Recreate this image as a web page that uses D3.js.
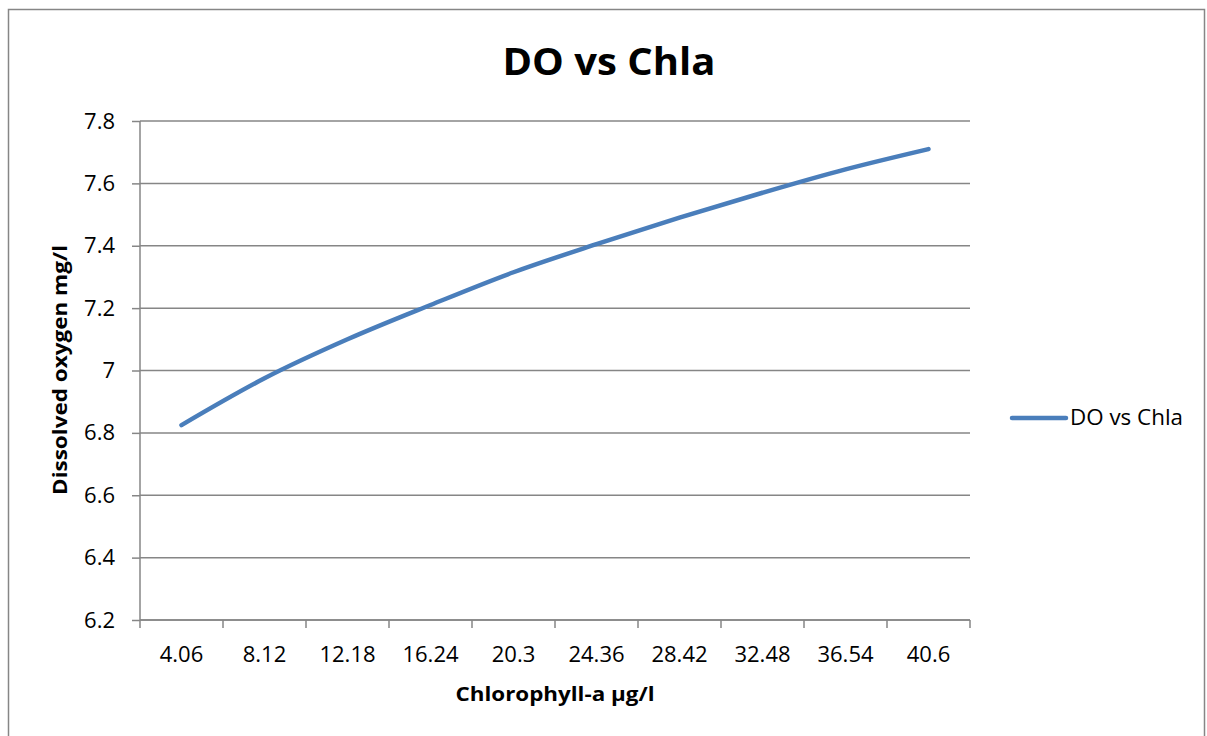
<!DOCTYPE html>
<html><head><meta charset="utf-8">
<script src="https://cdn.jsdelivr.net/npm/d3@7"></script>
<style>body{margin:0;background:#fff}svg{display:block}</style>
</head><body>
<script>
const categories = ["4.06","8.12","12.18","16.24","20.3","24.36","28.42","32.48","36.54","40.6"];
const doValues = [6.825, 6.975, 7.10, 7.21, 7.315, 7.405, 7.49, 7.57, 7.645, 7.71];
const yTicks = [6.2, 6.4, 6.6, 6.8, 7, 7.2, 7.4, 7.6, 7.8];
const seriesName = "DO vs Chla";
const titleText = "DO vs Chla";
const xLabel = "Chlorophyll-a µg/l";
const yLabel = "Dissolved oxygen mg/l";

const W = 1207, H = 736;
const font = "'Open Sans', 'Liberation Sans', sans-serif";
const svg = d3.select("body").append("svg").attr("width", W).attr("height", H);

svg.append("rect").attr("x", 8.5).attr("y", 9.5).attr("width", 1196).attr("height", 740)
  .attr("fill", "#fff").attr("stroke", "#868686").attr("stroke-width", 1.5);

const L = 140, R = 970, T = 121, B = 620;
const x = d3.scaleBand().domain(categories).range([L, R]);
const y = d3.scaleLinear().domain([6.2, 7.8]).range([B, T]);

// gridlines
svg.append("g").selectAll("line").data(yTicks).join("line")
  .attr("x1", L).attr("x2", R).attr("y1", d => y(d)).attr("y2", d => y(d))
  .attr("stroke", "#868686").attr("stroke-width", 1.5);

// y axis
const yAxis = svg.append("g").attr("transform", `translate(${L},0)`)
  .call(d3.axisLeft(y).tickValues(yTicks).tickSize(8).tickPadding(17).tickFormat(d3.format("")));
yAxis.select(".domain").attr("stroke", "#868686").attr("stroke-width", 1.5).attr("d", `M0,${T}V${B}`);
yAxis.selectAll(".tick line").attr("stroke", "#868686").attr("stroke-width", 1.5);
yAxis.selectAll(".tick text").attr("font-family", font).attr("font-size", 22).attr("fill", "#000");

// x axis
const xAxis = svg.append("g").attr("transform", `translate(0,${B})`)
  .call(d3.axisBottom(x).tickSize(0).tickPadding(26));
xAxis.select(".domain").attr("stroke", "#868686").attr("stroke-width", 1.5).attr("d", `M${L},0H${R}`);
xAxis.selectAll(".tick text").attr("font-family", font).attr("font-size", 22).attr("fill", "#000");
const bounds = categories.map(c => x(c)).concat([R]);
xAxis.append("g").selectAll("line").data(bounds).join("line")
  .attr("x1", d => d).attr("x2", d => d).attr("y1", 0).attr("y2", 8)
  .attr("stroke", "#868686").attr("stroke-width", 1.5);

// line
const line = d3.line().x((d, i) => x(categories[i]) + x.bandwidth() / 2).y(d => y(d))
  .curve(d3.curveCatmullRom.alpha(0.5));
svg.append("path").datum(doValues).attr("d", line).attr("fill", "none")
  .attr("stroke", "#4a7ebb").attr("stroke-width", 4.5).attr("stroke-linecap", "round").attr("stroke-linejoin", "round");

// title
svg.append("text").attr("x", 609).attr("y", 75).attr("text-anchor", "middle")
  .attr("font-family", font).attr("font-weight", "bold").attr("font-size", 37)
  .attr("textLength", 213).attr("lengthAdjust", "spacingAndGlyphs").text(titleText);

// axis titles
svg.append("text").attr("x", 555).attr("y", 701).attr("text-anchor", "middle")
  .attr("font-family", font).attr("font-weight", "bold").attr("font-size", 20)
  .attr("textLength", 199).attr("lengthAdjust", "spacingAndGlyphs").text(xLabel);
svg.append("text").attr("transform", "translate(67,370) rotate(-90)").attr("text-anchor", "middle")
  .attr("font-family", font).attr("font-weight", "bold").attr("font-size", 20)
  .attr("textLength", 250).attr("lengthAdjust", "spacingAndGlyphs").text(yLabel);

// legend
svg.append("line").attr("x1", 1012).attr("x2", 1066).attr("y1", 418).attr("y2", 418)
  .attr("stroke", "#4a7ebb").attr("stroke-width", 4.5).attr("stroke-linecap", "round");
svg.append("text").attr("x", 1070).attr("y", 425).attr("font-family", font).attr("font-size", 21)
  .attr("fill", "#000").attr("textLength", 113).attr("lengthAdjust", "spacingAndGlyphs").text(seriesName);
</script>
</body></html>
